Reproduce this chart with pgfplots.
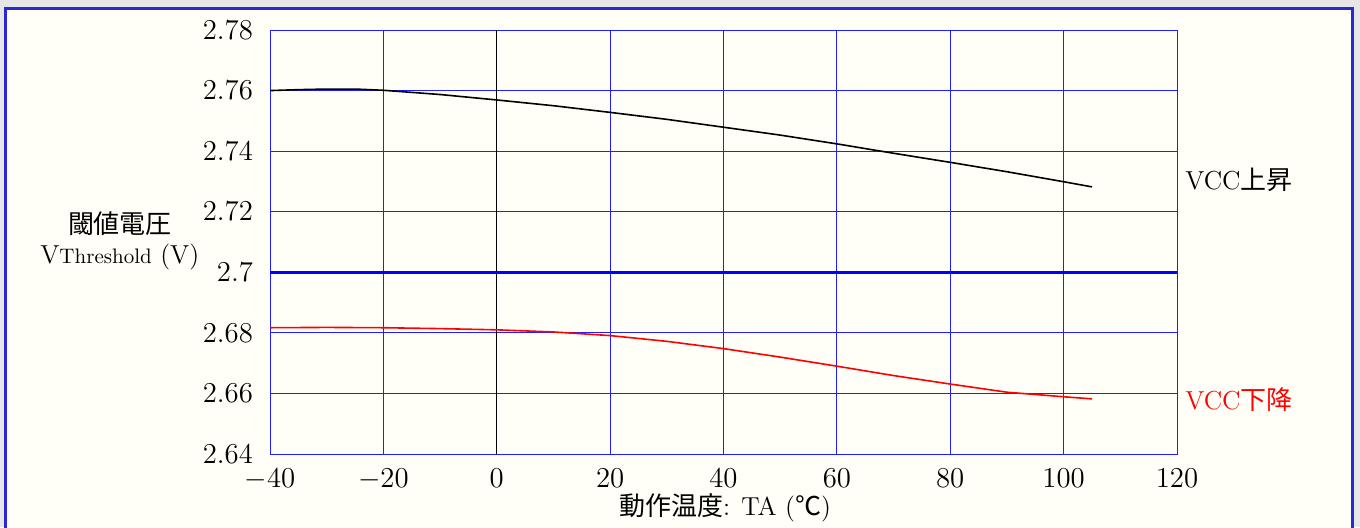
\documentclass[border=0pt]{standalone}
\usepackage{fontspec}
\usepackage{pgfplots}
\pgfplotsset{compat=1.18}
\newfontfamily\jp{Noto Sans CJK JP}
\definecolor{cream}{RGB}{255,255,247}
\definecolor{outergray}{RGB}{230,230,230}
\definecolor{borderblue}{RGB}{40,40,215}
\definecolor{gridblue}{RGB}{30,30,255}
\begin{document}
\begin{tikzpicture}[x=0.5pt,y=0.5pt]
\useasboundingbox (0,0) rectangle (1360,527);
\fill[outergray] (0,0) rectangle (1360,527);
\fill[cream] (5,0) rectangle (1352,519);
\draw[borderblue,line width=1.5pt] (5,-3) -- (5,519) -- (1352,519) -- (1352,-3);
\begin{axis}[
  at={(135pt,36.5pt)}, anchor=south west,
  scale only axis, width=453.5pt, height=212pt,
  xmin=-40, xmax=120, ymin=2.64, ymax=2.78,
  xtick={-40,-20,...,120},
  ytick={2.64,2.66,2.68,2.70,2.72,2.74,2.76,2.78},
  yticklabel style={/pgf/number format/fixed,/pgf/number format/precision=2},
  tick style={draw=none},
  grid=major,
  major grid style={gridblue,line width=0.5pt},
  axis line style={gridblue,line width=0.5pt},
  tick label style={font=\fontsize{13.5}{15}\selectfont},
  xticklabel style={yshift=-4pt},
  yticklabel style={xshift=-5pt},
  clip=false,
]
\addplot[black,line width=0.5pt] coordinates {(0,2.64) (0,2.78)};
\addplot[blue,line width=1.4pt] coordinates {(-40,2.70) (120,2.70)};
\addplot[black,line width=0.8pt] coordinates {
(-40,2.7600) (-35,2.7603) (-30,2.7605) (-25,2.7605) (-20,2.7601) (-10,2.7587)
(0,2.7569) (10,2.7550) (20,2.7528) (30,2.7505) (40,2.7479) (50,2.7453)
(60,2.7424) (70,2.7393) (80,2.7363) (90,2.7332) (100,2.7299) (105,2.7282)};
\addplot[red,line width=0.8pt] coordinates {
(-40,2.6817) (-30,2.6818) (-20,2.6817) (-10,2.6814) (0,2.6810) (10,2.6803)
(20,2.6791) (30,2.6772) (40,2.6748) (50,2.6720) (60,2.6690) (70,2.6659)
(80,2.6631) (90,2.6604) (100,2.6589) (105,2.6582)};
\end{axis}
\node[font=\jp\fontsize{13}{15}\selectfont,inner sep=0pt] at (120,303) {閾値電圧};
\node[anchor=west,inner sep=0pt] at (40,270) {\fontsize{13}{15}\selectfont V\fontsize{10.5}{12}\selectfont Threshold\fontsize{13}{15}\selectfont\ (V)};
\node[anchor=west,inner sep=0pt,font=\fontsize{13}{15}\selectfont] at (1185,347) {VCC{\jp 上昇}};
\node[anchor=west,inner sep=0pt,font=\fontsize{13}{15}\selectfont,text=red] at (1185,127) {VCC{\jp 下降}};
\node[inner sep=0pt,font=\fontsize{13}{15}\selectfont] at (725,19) {{\jp 動作温度}: TA ({\jp ℃})};
\end{tikzpicture}
\end{document}
